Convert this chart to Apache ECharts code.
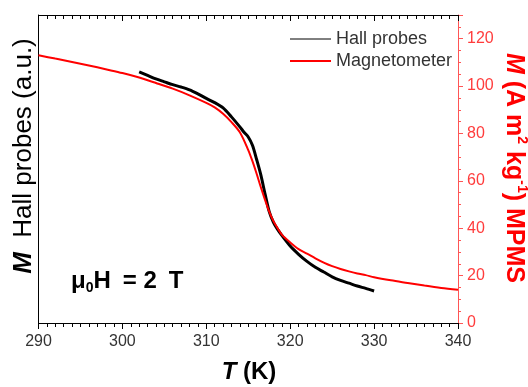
<!DOCTYPE html>
<html>
<head>
<meta charset="utf-8">
<script src="https://cdn.jsdelivr.net/npm/echarts@6/dist/echarts.min.js"></script>
<style>html,body{margin:0;padding:0;background:#fff;}#c{width:528px;height:387px;}</style>
</head>
<body>
<div id="c"></div>
<script>
// Magnetometer (MPMS) curve, right axis units
var magT = [290,292,294,296,298,300,302,304,306,308,310,311,312,313,314,315,315.5,316,316.5,317,317.5,318,318.5,319,320,321,322,323,324,325,326,327,328,329,330,332,334,336,338,340];
var magM = [113,111.6,110.2,108.7,107.1,105.5,103.6,101.3,98.9,96.1,92.9,91,88.3,84.8,80.5,73,68.3,63,57.3,52,47,43,40,37.3,34,31.2,29.3,27.3,25.5,24,22.8,21.8,20.9,20.2,19.3,18.0,16.9,15.8,14.8,14.0];
// Hall probes curve (a.u., plotted on the same scale)
var hallT = [302,303,304,305,306,307,308,309,310,311,312,313,314,314.5,315,315.5,316,316.5,317,317.5,318,318.5,319,320,321,322,323,324,325,326,327,328,329,330];
var hallM = [106,104.5,103,101.8,100.6,99.6,98.4,96.7,94.8,93,90.8,87,82.8,80.5,78.5,75,69,62.5,54.5,47,42.5,39.5,37,32.5,29,26,23.5,21.5,19.5,18,16.8,15.6,14.6,13.5];
var xTicks = [290,300,310,320,330,340];
var yTicks = [0,20,40,60,80,100,120];

function pairs(a,b){var r=[];for(var i=0;i<a.length;i++)r.push([a[i],b[i]]);return r;}

var FONT = 'Arial, "Liberation Sans", sans-serif';
var chart = echarts.init(document.getElementById('c'), null, {renderer:'canvas'});
var option = {
  animation:false,
  backgroundColor:'#fff',
  grid:{left:38.5,right:70,top:15,bottom:64,containLabel:false},
  legend:{
    orient:'vertical', left:289, top:30, itemWidth:41, itemHeight:2, itemGap:4, padding:0,
    itemStyle:{opacity:0},
    textStyle:{fontSize:18,color:'#333',fontFamily:FONT,lineHeight:18},
    data:[{name:'Hall probes',lineStyle:{width:1}},{name:'Magnetometer',lineStyle:{width:2}}]
  },
  xAxis:[{
    type:'value', min:xTicks[0], max:xTicks[xTicks.length-1], interval:10, position:'bottom',
    axisLine:{show:true,onZero:false,lineStyle:{color:'#000',width:1}},
    axisTick:{show:true,length:6,lineStyle:{color:'#000',width:1}},
    minorTick:{show:true,splitNumber:10,length:4,lineStyle:{color:'#000',width:1}},
    axisLabel:{fontSize:16,color:'#333',margin:11,fontFamily:FONT},
    splitLine:{show:false}
  },{
    type:'value', min:xTicks[0], max:xTicks[xTicks.length-1], interval:10, position:'top',
    axisLine:{show:true,onZero:false,lineStyle:{color:'#000',width:1}},
    axisTick:{show:true,inside:true,length:6,lineStyle:{color:'#000',width:1}},
    minorTick:{show:true,splitNumber:10,length:4,lineStyle:{color:'#000',width:1}},
    axisLabel:{show:false},
    splitLine:{show:false}
  }],
  yAxis:[{
    type:'value', min:0, max:130, position:'left',
    axisLine:{show:true,onZero:false,lineStyle:{color:'#000',width:1}},
    axisTick:{show:false}, axisLabel:{show:false}, splitLine:{show:false}
  },{
    type:'value', min:yTicks[0], max:130, interval:20, position:'right',
    axisLine:{show:true,onZero:false,lineStyle:{color:'#ff5555',width:1}},
    axisTick:{show:true,length:5,lineStyle:{color:'#ff5555',width:1}},
    minorTick:{show:true,splitNumber:4,length:3,lineStyle:{color:'#ff5555',width:1}},
    axisLabel:{fontSize:16,color:'#ff3c3c',margin:9,fontFamily:FONT,showMaxLabel:false,
      formatter:function(v){return yTicks.indexOf(v)>=0?String(v):'';}},
    splitLine:{show:false}
  }],
  series:[{
    name:'Hall probes', type:'line', xAxisIndex:0, yAxisIndex:0, data:pairs(hallT,hallM),
    symbol:'none', smooth:0.3,
    lineStyle:{color:'#000',width:3}, itemStyle:{color:'#000'}, z:3
  },{
    name:'Magnetometer', type:'line', xAxisIndex:0, yAxisIndex:1, data:pairs(magT,magM),
    symbol:'none', smooth:0.3,
    lineStyle:{color:'#ff0000',width:2}, itemStyle:{color:'#ff0000'}, z:4
  }],
  graphic:[{
    type:'text', x:24, y:156, rotation:Math.PI/2,
    style:{text:'{b|M}  Hall probes (a.u.)', fontSize:26, fontFamily:FONT, fill:'#000',
      align:'center', verticalAlign:'middle',
      rich:{b:{fontSize:26,fontStyle:'italic',fontWeight:'bold',fontFamily:FONT,fill:'#000'}}}
  },{
    type:'text', x:514, y:168, rotation:-Math.PI/2,
    style:{text:'{i|M}{b| (A m}{s|2}{b| kg}{s|-1}{b|) MPMS}', fontSize:25, fontWeight:'bold', fontFamily:FONT, fill:'#ff0000',
      align:'center', verticalAlign:'middle',
      rich:{
        i:{fontSize:25,fontWeight:'bold',fontStyle:'italic',fontFamily:FONT,fill:'#ff0000',lineHeight:29},
        b:{fontSize:25,fontWeight:'bold',fontFamily:FONT,fill:'#ff0000',lineHeight:29},
        s:{fontSize:14,fontWeight:'bold',fontFamily:FONT,fill:'#ff0000',lineHeight:15,verticalAlign:'top'}
      }}
  },{
    type:'text', x:71, y:281,
    style:{text:'{m|μ}{s|0}{m|H\u2002= 2\u2002T}', fontSize:24, fontWeight:'bold', fontFamily:FONT, fill:'#000',
      align:'left', verticalAlign:'middle',
      rich:{
        m:{fontSize:24,fontWeight:'bold',fontFamily:FONT,fill:'#000',lineHeight:28},
        s:{fontSize:14,fontWeight:'bold',fontFamily:FONT,fill:'#000',lineHeight:15,verticalAlign:'bottom'}
      }}
  },{
    type:'text', x:249, y:372,
    style:{text:'{i|T} (K)', fontSize:24, fontWeight:'bold', fontFamily:FONT, fill:'#000',
      align:'center', verticalAlign:'middle',
      rich:{
        i:{fontSize:24,fontWeight:'bold',fontStyle:'italic',fontFamily:FONT,fill:'#000'}
      }}
  }]
};
chart.setOption(option);
</script>
</body>
</html>
